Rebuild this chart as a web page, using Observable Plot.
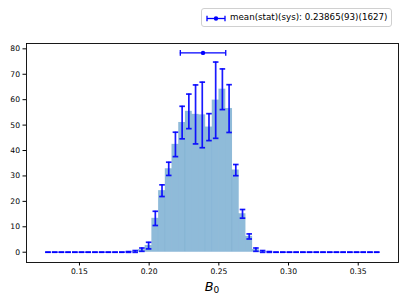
<!DOCTYPE html>
<html>
<head>
<meta charset="utf-8">
<script src="https://cdn.jsdelivr.net/npm/d3@7"></script>
<script src="https://cdn.jsdelivr.net/npm/@observablehq/plot@0.6"></script>
<style>
  html, body { margin: 0; padding: 0; background: #fff; }
  #wrap { position: relative; width: 407px; height: 305px; font-family: "DejaVu Sans", sans-serif; }
  #legend { position: absolute; left: 201px; top: 8px; height: 19px; width: 191px;
    border: 1px solid #d0d0d0; border-radius: 3px; background: #fff; box-sizing: border-box;
    font-size: 8.7px; color: #000; }
  #legend svg { position: absolute; left: 3px; top: 3px; }
  #legend span { position: absolute; left: 28px; top: 3px; white-space: nowrap; line-height: 11px; }
</style>
</head>
<body>
<div id="wrap">
  <div id="chart"></div>
  <div id="legend"><svg width="22" height="12"></svg><span></span></div>
</div>
<script>
// ---- data ----
const binLo = 0.12501;
const binHi = 0.36564;
const counts = [0,0,0,0,0,0,0,0,0,0,0,0,
  0.1,0.3,1.0,2.6,13.3,24.2,32.8,42.4,51.0,55.4,54.2,54.0,49.2,59.8,64.1,56.5,32.3,15.1,6.2,1.0,0.3,0.1,
  0,0,0,0,0,0,0,0,0,0,0,0,0,0,0,0];
const errors = [0,0,0,0,0,0,0,0,0,0,0,0,
  0.15,0.35,0.65,1.3,2.8,2.3,2.6,4.8,6.4,6.8,11.6,12.9,5.3,15.0,8.0,9.4,2.2,1.7,1.0,0.65,0.35,0.15,
  0,0,0,0,0,0,0,0,0,0,0,0,0,0,0,0];
const meanValue = 0.23865;
const meanStat = 0.00093;
const meanSys = 0.01627;
const meanLevel = 78.4;
const xTicks = [0.15, 0.20, 0.25, 0.30, 0.35];
const yTicks = [0, 10, 20, 30, 40, 50, 60, 70, 80];
const legendLabel = "mean(stat)(sys): 0.23865(93)(1627)";
const xLabelMain = "B";
const xLabelSub = "0";

// ---- build table ----
const nBins = counts.length;
const w = (binHi - binLo) / nBins;
const bins = counts.map((c, i) => ({
  x1: binLo + i * w, x2: binLo + (i + 1) * w, xc: binLo + (i + 0.5) * w,
  y: c, lo: c - errors[i], hi: c + errors[i]
}));
const meanErr = Math.sqrt(meanStat * meanStat + meanSys * meanSys);
const meanRow = [{x: meanValue, y: meanLevel, x1: meanValue - meanErr, x2: meanValue + meanErr}];

const hcap = { draw(ctx, size) { const r = Math.sqrt(size / Math.PI); ctx.moveTo(-r, 0); ctx.lineTo(r, 0); } };
const vcap = { draw(ctx, size) { const r = Math.sqrt(size / Math.PI); ctx.moveTo(0, -r); ctx.lineTo(0, r); } };
const blue = "#0000ff";

const plot = Plot.plot({
  width: 407, height: 305,
  marginLeft: 26, marginRight: 9, marginTop: 43, marginBottom: 43,
  style: { fontFamily: "DejaVu Sans, sans-serif", fontSize: "7.6px", color: "#000", background: "transparent" },
  x: { domain: [0.1120, 0.3789] },
  y: { domain: [-4.05, 82.1] },
  marks: [
    Plot.rect(bins.filter(d => d.y > 0), { x1: "x1", x2: "x2", y1: 0, y2: "y", fill: "#1f77b4", fillOpacity: 0.5, stroke: "#1f77b4", strokeOpacity: 0.08, strokeWidth: 0.5 }),
    Plot.ruleX(bins.filter(d => d.hi > d.lo), { x: "xc", y1: "lo", y2: "hi", stroke: blue, strokeWidth: 1.7, strokeOpacity: 0.9 }),
    Plot.dot(bins, { x: "xc", y: "lo", symbol: hcap, r: 2.8, stroke: blue, strokeWidth: 1.7, strokeOpacity: 0.9 }),
    Plot.dot(bins, { x: "xc", y: "hi", symbol: hcap, r: 2.8, stroke: blue, strokeWidth: 1.7, strokeOpacity: 0.9 }),
    Plot.ruleY(meanRow, { y: "y", x1: "x1", x2: "x2", stroke: blue, strokeWidth: 1.3 }),
    Plot.dot(meanRow, { x: "x1", y: "y", symbol: vcap, r: 2.8, stroke: blue, strokeWidth: 1.3 }),
    Plot.dot(meanRow, { x: "x2", y: "y", symbol: vcap, r: 2.8, stroke: blue, strokeWidth: 1.3 }),
    Plot.dot(meanRow, { x: "x", y: "y", r: 2.2, fill: blue, stroke: "none" }),
    Plot.frame({ stroke: "#000", strokeWidth: 0.9 }),
    Plot.axisX({ ticks: xTicks, tickFormat: d => d.toFixed(2), tickSize: 3.5, tickPadding: 3, label: null, stroke: "#000" }),
    Plot.axisY({ ticks: yTicks, tickSize: 3.5, tickPadding: 3, label: null, stroke: "#000" })
  ]
});
document.getElementById("chart").appendChild(plot);

// x-axis label (B with subscript 0)
const svg = d3.select(plot);
const xs = plot.scale("x");
const cx = (xs.range[0] + xs.range[1]) / 2;
const lab = svg.append("text").attr("x", cx).attr("y", 291).attr("text-anchor", "middle")
  .attr("font-family", "DejaVu Sans, sans-serif").attr("fill", "#000");
lab.append("tspan").attr("font-size", "12.8px").attr("font-style", "italic").text(xLabelMain);
lab.append("tspan").attr("font-size", "9px").attr("dy", "2.3").text(xLabelSub);

// legend
const lg = d3.select("#legend svg");
lg.append("line").attr("x1", 2).attr("x2", 20).attr("y1", 6.5).attr("y2", 6.5).attr("stroke", blue).attr("stroke-width", 1.3);
lg.append("line").attr("x1", 2).attr("x2", 2).attr("y1", 3.7).attr("y2", 9.3).attr("stroke", blue).attr("stroke-width", 1.3);
lg.append("line").attr("x1", 20).attr("x2", 20).attr("y1", 3.7).attr("y2", 9.3).attr("stroke", blue).attr("stroke-width", 1.3);
lg.append("circle").attr("cx", 11).attr("cy", 6.5).attr("r", 2.2).attr("fill", blue);
d3.select("#legend span").text(legendLabel);
</script>
</body>
</html>
